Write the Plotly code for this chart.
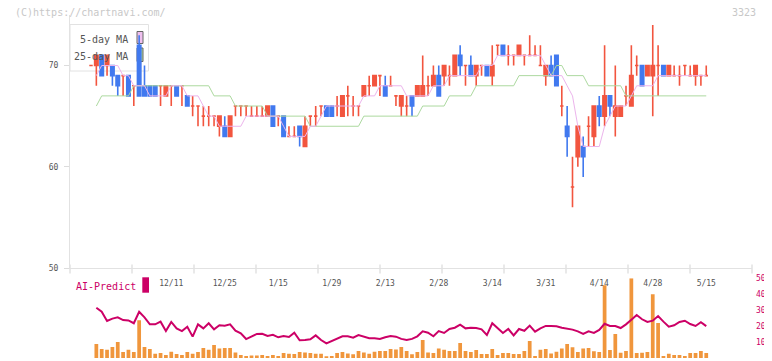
import plotly.graph_objects as go

# The page body adds an 8px margin, so the figure is 8px smaller and all
# pixel placements are measured from the reference minus that offset.
W_REF, H_REF = 772, 361
OFF = 8
W, H = W_REF - OFF, H_REF - OFF

# ---------------- data ----------------
date_labels = ["12/11", "12/25", "1/15", "1/29", "2/13", "2/28", "3/14", "3/31", "4/14", "4/28", "5/15"]
label_index = [15, 25, 35, 45, 55, 65, 75, 85, 95, 105, 115]

opens = [70, 70, 71, 70, 70, 69, 69, 69, 68, 72, 68, 68, 68, 68, 67, 68, 68, 68, 67, 66,
         66, 65, 65, 65, 64, 64, 63, 66, 66, 66, 65, 65, 65, 65, 66, 65, 65, 63, 63, 64,
         62, 65, 65, 66, 66, 66, 66, 65, 67, 66, 66, 67, 68, 68, 69, 68, 68, 67, 66, 66,
         67, 67, 67, 68, 68, 69, 69, 69, 69, 71, 70, 70, 69, 70, 70, 69, 72, 72, 71, 71,
         71, 71, 71, 71, 70, 69, 70, 71, 66, 64, 58, 61, 62, 64, 63, 66, 65, 67, 65, 65,
         67, 66, 70, 70, 69, 69, 70, 70, 69, 69, 69, 70, 69, 69, 69, 69]
highs = [70, 71, 71, 71, 70, 69, 69, 69, 68, 73, 70, 68, 68, 68, 68, 68, 68, 68, 67, 67,
         66, 66, 66, 65, 65, 65, 65, 66, 66, 66, 66, 66, 66, 66, 66, 65, 65, 64, 64, 64,
         65, 65, 66, 66, 66, 66, 67, 67, 68, 67, 66, 68, 69, 69, 69, 69, 69, 67, 67, 67,
         67, 68, 71, 69, 70, 70, 70, 70, 71, 72, 70, 71, 70, 70, 70, 72, 72, 72, 72, 71,
         72, 71, 73, 72, 72, 70, 71, 71, 68, 66, 61, 64, 63, 65, 66, 67, 72, 67, 70, 66,
         68, 72, 71, 70, 70, 74, 72, 70, 70, 70, 70, 70, 70, 70, 69, 70]
lows = [70, 68, 69, 69, 68, 67, 67, 67, 66, 67, 67, 67, 67, 66, 67, 66, 67, 66, 66, 65,
        64, 64, 64, 64, 63, 63, 63, 65, 65, 65, 65, 65, 65, 65, 64, 64, 63, 63, 63, 62,
        62, 64, 64, 65, 65, 65, 65, 65, 65, 65, 65, 67, 67, 68, 67, 67, 68, 66, 65, 65,
        65, 67, 67, 67, 68, 67, 68, 68, 69, 69, 68, 69, 68, 69, 69, 68, 71, 71, 70, 70,
        71, 70, 71, 71, 70, 68, 69, 68, 65, 61, 56, 60, 59, 62, 62, 64, 64, 65, 63, 65,
        66, 66, 69, 68, 69, 65, 67, 69, 69, 69, 68, 69, 69, 68, 68, 69]
closes = [70, 71, 69, 71, 69, 68, 69, 67, 68, 67, 67, 67, 67, 68, 68, 68, 67, 68, 66, 66,
          66, 65, 65, 65, 65, 63, 65, 66, 66, 66, 65, 65, 65, 66, 64, 65, 63, 63, 63, 63,
          64, 65, 65, 66, 65, 65, 66, 67, 67, 66, 66, 68, 68, 69, 69, 67, 68, 67, 67, 66,
          66, 68, 68, 68, 69, 67, 70, 69, 71, 70, 70, 69, 70, 70, 69, 70, 72, 71, 71, 71,
          72, 71, 71, 71, 70, 70, 69, 68, 66, 63, 58, 64, 61, 64, 66, 65, 67, 66, 66, 66,
          67, 69, 70, 68, 70, 70, 70, 69, 70, 69, 69, 70, 69, 70, 69, 69]

ma5 = [None, 69, 70, 70, 70, 70, 69, 69, 68, 68, 68, 67, 67, 67, 67, 68, 68, 68, 67, 67,
       67, 66, 65, 65, 64, 64, 64, 64, 64, 65, 65, 65, 65, 65, 65, 65, 64, 63, 63, 63,
       63, 64, 64, 65, 66, 66, 66, 66, 66, 66, 66, 67, 67, 67, 68, 68, 68, 68, 68, 67,
       67, 67, 67, 67, 68, 68, 68, 69, 69, 69, 69, 69, 69, 70, 70, 70, 71, 71, 71, 71,
       71, 71, 71, 71, 71, 70, 69, 69, 69, 68, 67, 64, 62, 62, 62, 62, 64, 65, 66, 66,
       66, 67, 68, 68, 68, 68, 69, 69, 69, 69, 69, 69, 69, 69, 69, 69]
ma25 = [None, 66, 67, 67, 67, 67, 67, 67, 68, 68, 68, 68, 68, 68, 68, 68, 68, 68, 68, 68,
        68, 68, 68, 67, 67, 67, 67, 66, 66, 66, 66, 66, 66, 65, 65, 65, 65, 65, 65, 65,
        65, 64, 64, 64, 64, 64, 64, 64, 64, 64, 64, 65, 65, 65, 65, 65, 65, 65, 65, 65,
        65, 65, 66, 66, 66, 66, 66, 67, 67, 67, 67, 67, 68, 68, 68, 68, 68, 68, 68, 68,
        69, 69, 69, 69, 69, 69, 69, 70, 70, 69, 69, 69, 69, 68, 68, 68, 68, 68, 68, 68,
        67, 67, 67, 67, 67, 67, 67, 67, 67, 67, 67, 67, 67, 67, 67, 67]

volume = [None, 8.75, 5.6, 5.2, 6.9, 10, 3.75, 5.2, 3.75, 23.75, 6.9, 5.6, 2.7, 3.1, 1.9, 3.9,
          2.5, 1.9, 3.75, 2.7, 3.75, 6.25, 5.2, 8.1, 6.0, 6.25, 6.25, 3.5, 1.9, 1.25, 1.5,
          1.5, 1.9, 1.25, 1.9, 1.25, 3.1, 2.7, 2.5, 3.75, 3.5, 3.1, 2.7, 2.7, 0.6, 1.25,
          3.1, 3.75, 2.9, 2.3, 4.4, 3.5, 2.7, 3.9, 4.4, 4.4, 5.6, 5.4, 6.9, 4.4, 2.3,
          3.75, 11.25, 3.5, 3.1, 6.0, 5.2, 4.4, 4.4, 9.4, 4.4, 3.75, 5.0, 2.5, 2.5, 5.6,
          1.9, 3.1, 3.1, 2.5, 2.5, 4.4, 10.6, 1.25, 5.2, 5.6, 2.9, 3.9, 6.0, 8.75, 6.7,
          3.75, 6.0, 6.25, 4.2, 3.75, 45.6, 5.0, 15, 3.3, 4.4, 50, 3.1, 3.3, 3.75, 40,
          21.9, 1.25, 2.7, 1.9, 1.9, 1.25, 3.1, 3.1, 4.4, 3.1]

ai_predict = [None, 31.5, 29, 23.2, 24.7, 25.5, 23.8, 23.6, 21.8, 29, 25.5, 21.1, 21.1, 22.8,
              16.9, 22.6, 18.6, 16.9, 19.6, 13.4, 21.1, 18.6, 21.8, 18, 20.5, 20.3, 21.1,
              17.1, 15.5, 11.9, 13.6, 15.1, 15.2, 13.8, 14.6, 13, 13.8, 13.2, 15.9, 11.1,
              11.3, 11.7, 14.2, 11.3, 9.2, 10.7, 12.4, 13.6, 13.6, 12.7, 14.4, 13.4, 12.4,
              12.4, 11.9, 13, 13.8, 13.4, 12, 11.3, 12, 13.6, 16.7, 15.9, 13.6, 16.9, 15.7,
              18.2, 19, 20.9, 18.6, 19, 18.8, 18, 14.4, 21.8, 18.6, 15.7, 18.2, 14.2, 18.2,
              17.1, 20.3, 16.5, 18.6, 20.1, 20.1, 19.9, 19, 18.6, 17.8, 16.7, 15.1, 16.7,
              15.7, 17.6, 21.5, 20.1, 20.1, 18.8, 21.1, 24, 27, 24.3, 22.6, 23.4, 26.3,
              22.8, 19.6, 20.5, 22.6, 23.4, 21.3, 20.1, 22.4, 20]

# ---------------- styling ----------------
RED = "#f2553f"
BLUE = "#4179ef"
PINK = "#ecb4ec"
GREEN = "#acd99f"
ORANGE = "#f0963c"
MAGENTA = "#cc0066"
MONO = "DejaVu Sans Mono"

idx = list(range(len(closes)))
up = [i for i in idx if closes[i] >= opens[i]]
dn = [i for i in idx if closes[i] < opens[i]]


def pick(arr, sel):
    return [arr[i] for i in sel]


def px_x(px):
    return (px - OFF) / W


def px_y(py):
    return 1 - (py - OFF) / H


fig = go.Figure()

fig.add_trace(go.Scatter(x=idx, y=ma25, mode="lines", line=dict(color=GREEN, width=1),
                         hoverinfo="skip", showlegend=False, xaxis="x", yaxis="y"))
fig.add_trace(go.Scatter(x=idx, y=ma5, mode="lines", line=dict(color=PINK, width=1),
                         hoverinfo="skip", showlegend=False, xaxis="x", yaxis="y"))

for sel, col in ((up, RED), (dn, BLUE)):
    fig.add_trace(go.Candlestick(
        x=sel, open=pick(opens, sel), high=pick(highs, sel), low=pick(lows, sel),
        close=pick(closes, sel),
        increasing=dict(line=dict(color=col, width=1.6), fillcolor=col),
        decreasing=dict(line=dict(color=col, width=1.6), fillcolor=col),
        whiskerwidth=0, hoverinfo="skip", showlegend=False, xaxis="x", yaxis="y"))

fig.add_trace(go.Bar(x=idx, y=volume, width=0.7, marker=dict(color=ORANGE, line=dict(width=0)),
                     hoverinfo="skip", showlegend=False, xaxis="x2", yaxis="y2"))
fig.add_trace(go.Scatter(x=idx, y=ai_predict, mode="lines", line=dict(color=MAGENTA, width=2),
                         hoverinfo="skip", showlegend=False, xaxis="x2", yaxis="y2"))

x_range = [(70 - 91) / 5.35, (752 - 91) / 5.35]
x_dom = [px_x(70), px_x(752)]

shapes = []
# legend box and swatches (drawn below the candles)
shapes.append(dict(type="rect", xref="paper", yref="paper", x0=px_x(70), x1=px_x(148.5),
                   y0=px_y(71), y1=px_y(24.5), line=dict(color="#e2e2e2", width=1),
                   fillcolor="white", layer="below"))
shapes.append(dict(type="rect", xref="paper", yref="paper", x0=px_x(137), x1=px_x(143),
                   y0=px_y(43.5), y1=px_y(31.5), line=dict(color="#666", width=1),
                   fillcolor="#efc0ef", layer="below"))
shapes.append(dict(type="rect", xref="paper", yref="paper", x0=px_x(137), x1=px_x(143),
                   y0=px_y(61.5), y1=px_y(48), line=dict(color="#666", width=1),
                   fillcolor=GREEN, layer="below"))
# AI-Predict swatch
shapes.append(dict(type="rect", xref="paper", yref="paper", x0=px_x(142.3), x1=px_x(149),
                   y0=px_y(292.7), y1=px_y(277.3), line=dict(width=0), fillcolor=MAGENTA))
# separator tick marks
for k in range(12):
    p = 70 + 62 * k
    shapes.append(dict(type="line", xref="paper", yref="paper", x0=px_x(p), x1=px_x(p),
                       y0=px_y(264.5), y1=px_y(273.5), line=dict(color="#e2e2e2", width=1.5)))

annotations = [
    dict(text="(C)https://chartnavi.com/", xref="paper", yref="paper", x=px_x(13), y=px_y(12.5),
         xanchor="left", yanchor="middle", showarrow=False,
         font=dict(family=MONO, size=10, color="#c8c8c8")),
    dict(text="3323", xref="paper", yref="paper", x=px_x(758), y=px_y(12.5),
         xanchor="right", yanchor="middle", showarrow=False,
         font=dict(family=MONO, size=10, color="#c8c8c8")),
    dict(text="5-day MA", xref="paper", yref="paper", x=px_x(130), y=px_y(39.5),
         xanchor="right", yanchor="middle", showarrow=False,
         font=dict(family=MONO, size=10, color="#555")),
    dict(text="25-day MA", xref="paper", yref="paper", x=px_x(130), y=px_y(56.5),
         xanchor="right", yanchor="middle", showarrow=False,
         font=dict(family=MONO, size=10, color="#555")),
    dict(text="AI-Predict", xref="paper", yref="paper", x=px_x(74), y=px_y(286),
         xanchor="left", yanchor="middle", showarrow=False,
         font=dict(family=MONO, size=10, color=MAGENTA)),
]

fig.update_layout(
    width=W, height=H, margin=dict(l=0, r=0, t=0, b=0),
    template="none", paper_bgcolor="white", plot_bgcolor="white",
    showlegend=False, boxgap=0.36, boxgroupgap=0, barmode="overlay",
    shapes=shapes, annotations=annotations,
    xaxis=dict(domain=x_dom, range=x_range, anchor="y", showgrid=False, zeroline=False,
               showline=True, linecolor="#e2e2e2", linewidth=1, ticks="",
               tickmode="array", tickvals=label_index, ticktext=date_labels,
               tickfont=dict(family=MONO, size=8, color="#555"), ticklabelstandoff=7,
               rangeslider=dict(visible=False), fixedrange=True, automargin=False),
    yaxis=dict(domain=[px_y(268), px_y(14.9)], range=[50, 75], anchor="x", showgrid=False,
               zeroline=False, showline=True, linecolor="#e2e2e2", linewidth=1,
               ticks="outside", ticklen=5, tickcolor="#dcdcdc", tickmode="array",
               tickvals=[50, 60, 70], tickfont=dict(family=MONO, size=8, color="#555"),
               ticklabelstandoff=4, fixedrange=True, automargin=False),
    xaxis2=dict(domain=x_dom, range=x_range, anchor="y2", visible=False, fixedrange=True),
    yaxis2=dict(domain=[px_y(358), px_y(278.3)], range=[0, 50], anchor="x2", side="right",
                showgrid=False, zeroline=False, showline=False, ticks="", tickmode="array",
                tickvals=[0, 10, 20, 30, 40, 50],
                tickfont=dict(family=MONO, size=8, color=MAGENTA), ticklabelstandoff=3,
                fixedrange=True, automargin=False),
)

fig.write_html("out.html")
